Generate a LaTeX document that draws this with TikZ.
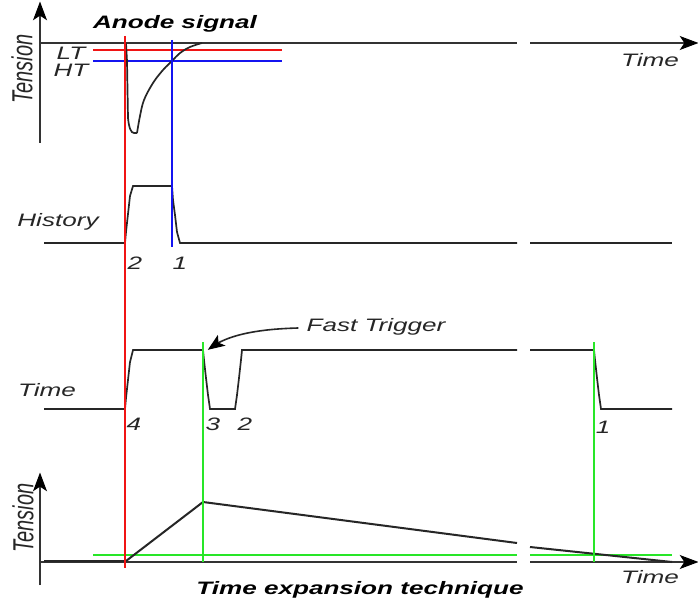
\documentclass[tikz,border=0pt]{standalone}
\usepackage{fontspec}
\setmainfont{Liberation Sans}
\definecolor{lred}{RGB}{240,20,20}
\definecolor{lblue}{RGB}{20,20,240}
\definecolor{lgreen}{RGB}{40,230,40}
\tikzset{
  sig/.style={line width=1.7pt, black!85},
  axisline/.style={line width=1.7pt, black!80},
  headfill/.style={fill=black, draw=black, line width=1pt, line join=miter},
  redl/.style={line width=1.6pt, lred},
  bluel/.style={line width=1.6pt, lblue},
  greenl/.style={line width=1.7pt, lgreen},
  lbl/.style={font=\fontsize{18}{20}\selectfont\itshape, xscale=1.45, inner sep=0pt, text=black!85},
  ttl/.style={font=\fontsize{18}{20}\selectfont\bfseries\itshape, xscale=1.45, inner sep=0pt},
  vlbl/.style={font=\fontsize{20}{22}\selectfont\itshape, xscale=1.45, rotate=90, inner sep=0pt, text=black!85},
}
\begin{document}
\begin{tikzpicture}[x=1pt,y=-1pt]
\useasboundingbox[fill=white] (0,0) rectangle (698,604);

% ---------- top panel: anode signal ----------
\coordinate (ya0) at (40,143);
\coordinate (ya1) at (40,3);
\draw[axisline] (ya0) -- ([yshift=-10pt]ya1);
\filldraw[headfill] (ya1) -- ++(6,16) -- ++(-6,-4) -- ++(-6,4) -- cycle;
\coordinate (xa0) at (40,43);
\coordinate (xa1) at (517,43);
\coordinate (xa2) at (530,43);
\coordinate (xa3) at (697,43);
\draw[axisline] (xa0) -- (xa1);
\draw[axisline] (xa2) -- ([xshift=-10pt]xa3);
\filldraw[headfill] (xa3) -- ++(-16,-6) -- ++(4,6) -- ++(-4,6) -- cycle;

\coordinate (lt0) at (93,50);  \coordinate (lt1) at (282,50);
\coordinate (ht0) at (93,61);  \coordinate (ht1) at (282,61);
\draw[redl] (lt0) -- (lt1);
\draw[bluel] (ht0) -- (ht1);

\draw[sig] (126,43) -- (127,61) -- (128,118) .. controls (129,128) and (131,133) .. (134,133) -- (137,133);
\draw[sig] plot[smooth, tension=0.6] coordinates {(137,133) (140,116) (144,100) (153,83) (163,70) (172,61) (180,53) (190,47) (202,43)};

\node[ttl] (anode) at (175,24) {Anode signal};
\node[vlbl] (tens1) at (22,69) {Tension};
\node[lbl] (ltl) at (71,53) {LT};
\node[lbl] (htl) at (71,70) {HT};
\node[lbl] (time1) at (650,60) {Time};

% ---------- history ----------
\draw[sig] (44,243) -- (125,243) -- (126,232) -- (128,214) -- (130,196) -- (133,186) -- (172,186)
  -- (173,200) -- (175,215) -- (177,232) -- (180,243) -- (517,243);
\draw[sig] (530,243) -- (672,243);
\node[lbl] (hist) at (58,222) {History};
\node[lbl] (h2) at (135,263) {2};
\node[lbl] (h1) at (180,263) {1};

% ---------- time row ----------
\draw[sig] (44,409) -- (125,409) -- (126,398) -- (128,380) -- (130,362) -- (133,350) -- (203,350)
  -- (204,360) -- (206,378) -- (208,395) -- (210,409) -- (235,409) -- (237,395) -- (239,378) -- (241,360) -- (242,350) -- (517,350);
\draw[sig] (530,350) -- (594,350) -- (595,360) -- (597,378) -- (599,395) -- (601,409) -- (672,409);
\node[lbl] (time2) at (47,390) {Time};
\node[lbl] (n4) at (134,424) {4};
\node[lbl] (n3) at (213,424) {3};
\node[lbl] (n2) at (245,424) {2};
\node[lbl] (n1) at (603,427) {1};
\node[lbl] (fast) at (376,327) {Fast Trigger};
\coordinate (ftip) at (209,349);
\coordinate (fnotch) at (218,343);
\draw[line width=1.6pt, black!85] (fast.west) ++(-8,1) .. controls (260,329) and (235,334) .. (fnotch);
\filldraw[headfill] (ftip) -- (224,345.5) -- (fnotch) -- (217.5,336.3) -- cycle;

% ---------- bottom panel ----------
\coordinate (yb0) at (40,585);
\coordinate (yb1) at (40,474);
\draw[axisline] (yb0) -- ([yshift=-10pt]yb1);
\filldraw[headfill] (yb1) -- ++(6,16) -- ++(-6,-4) -- ++(-6,4) -- cycle;
\coordinate (xb0) at (40,562);
\coordinate (xb1) at (517,562);
\coordinate (xb2) at (530,562);
\coordinate (xb3) at (697,562);
\draw[axisline] (xb0) -- (xb1);
\draw[axisline] (xb2) -- ([xshift=-10pt]xb3);
\filldraw[headfill] (xb3) -- ++(-16,-6) -- ++(4,6) -- ++(-4,6) -- cycle;
\draw[greenl] (93,555) -- (517,555);
\draw[greenl] (530,555) -- (672,555);
\draw[line width=2pt, black!85] (44,561) -- (126,561) -- (203,502) -- (517,543);
\draw[line width=2pt, black!85] (530,547) -- (672,562);
\node[vlbl] (tens2) at (23,518) {Tension};
\node[lbl] (time3) at (650,577) {Time};
\node[ttl] (expn) at (360,590) {Time expansion technique};

% ---------- vertical markers ----------
\draw[redl] (125,36) -- (125,568);
\draw[bluel] (172,40) -- (172,247);
\draw[greenl] (203,342) -- (203,562);
\draw[greenl] (594,342) -- (594,562);
\end{tikzpicture}
\end{document}
